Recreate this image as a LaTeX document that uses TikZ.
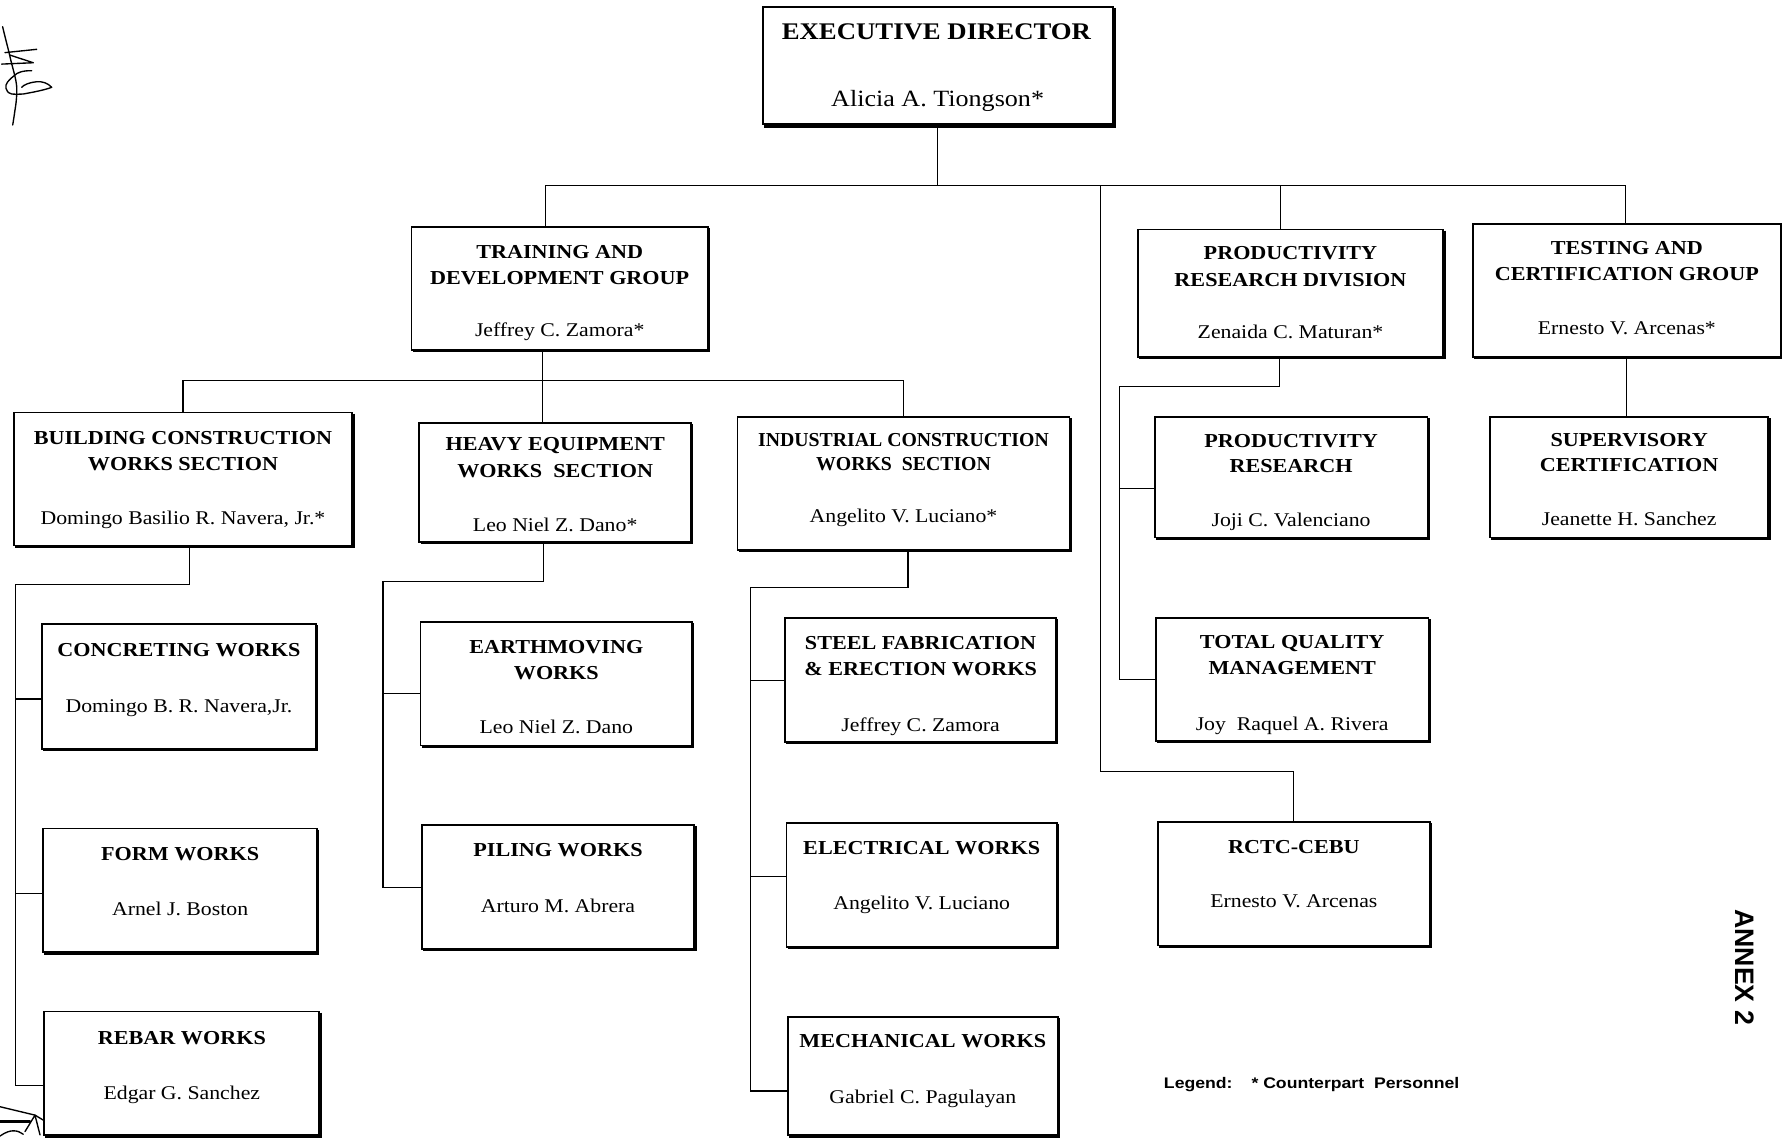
\documentclass[tikz,border=0pt]{standalone}
\usepackage{fontspec}
\setmainfont{Liberation Serif}[FakeStretch=1.12]
\newfontfamily\plainserif{Liberation Serif}
\newfontfamily\legendfont{Liberation Sans}[FakeStretch=1.15]
\newfontfamily\annexfont{Liberation Sans}

% one organisational unit: name, left, top, right, bottom
\newcommand\unitbox[5]{%
  \pgfmathsetmacro\ux{(#2+#4)/2}%
  \pgfmathsetmacro\uy{(#3+#5)/2}%
  \pgfmathsetmacro\uw{#4-#2}%
  \pgfmathsetmacro\uh{#5-#3}%
  \node[unit, minimum width=\uw pt, minimum height=\uh pt] (#1) at (\ux,\uy) {};
  \draw[line width=1.3pt] ([shift={(1.4pt,-1pt)}]#1.north east)
     -- ([shift={(1.4pt,-1.4pt)}]#1.south east)
     -- ([shift={(1pt,-1.4pt)}]#1.south west);
}

\begin{document}
\begin{tikzpicture}[x=1pt,y=-1pt,
  unit/.style={draw, line width=1.6pt, inner sep=0pt, outer sep=0pt, fill=white},
  ttl/.style={font=\fontsize{17.4}{20}\selectfont\bfseries, inner sep=0pt,
              text height=11.5pt, text depth=0pt},
  ttlnarrow/.style={font=\plainserif\fontsize{17.4}{20}\selectfont\bfseries, inner sep=0pt,
              text height=11.5pt, text depth=0pt},
  who/.style={font=\fontsize{17.1}{20}\selectfont, inner sep=0pt,
              text height=11.3pt, text depth=0pt},
  edttl/.style={font=\fontsize{21}{24}\selectfont\bfseries, inner sep=0pt,
              text height=13.9pt, text depth=0pt},
  edwho/.style={font=\fontsize{20.5}{24}\selectfont, inner sep=0pt,
              text height=13.5pt, text depth=0pt},
  link/.style={line width=1pt},
  ink/.style={line width=1.2pt, line cap=round, line join=round},
  legend/.style={font=\legendfont\bfseries\fontsize{13.5}{16}\selectfont, inner sep=0pt,
              text height=9.5pt, text depth=0pt},
]
\useasboundingbox (0,0) rectangle (1568,1001);

% ---------- executive director ----------
\node[unit, line width=1.8pt, minimum width=308pt, minimum height=103pt] (ed) at (825,57.5) {};
\draw[line width=2.6pt] ([shift={(2pt,-1pt)}]ed.north east)
   -- ([shift={(2pt,-2pt)}]ed.south east) -- ([shift={(1pt,-2pt)}]ed.south west);
\node[edttl] (ed-t) at (824,28) {EXECUTIVE DIRECTOR};
\node[edwho] (ed-n) at (825,87) {Alicia A. Tiongson*};

% ---------- groups and divisions ----------
\unitbox{tdg}{362}{200}{623}{308}
\node[ttl] (tdg-t1) at (\ux,222) {TRAINING AND};
\node[ttl] (tdg-t2) at (\ux,245) {DEVELOPMENT GROUP};
\node[who] (tdg-n) at (\ux,290) {Jeffrey C. Zamora*};

\unitbox{prd}{1001}{202}{1270}{314}
\node[ttl] (prd-t1) at (\ux,223) {PRODUCTIVITY};
\node[ttl] (prd-t2) at (\ux,246) {RESEARCH DIVISION};
\node[who] (prd-n) at (\ux,292) {Zenaida C. Maturan*};

\unitbox{tcg}{1296}{197}{1567}{314}
\node[ttl] (tcg-t1) at (\ux,218) {TESTING AND};
\node[ttl] (tcg-t2) at (\ux,241) {CERTIFICATION GROUP};
\node[who] (tcg-n) at (\ux,289) {Ernesto V. Arcenas*};

% ---------- sections ----------
\unitbox{bcw}{12}{363}{310}{480}
\node[ttl] (bcw-t1) at (\ux,385) {BUILDING CONSTRUCTION};
\node[ttl] (bcw-t2) at (\ux,408) {WORKS SECTION};
\node[who] (bcw-n) at (\ux,456) {Domingo Basilio R. Navera, Jr.*};

\unitbox{hew}{369}{372}{608}{477}
\node[ttl] (hew-t1) at (\ux,391) {HEAVY EQUIPMENT};
\node[ttl] (hew-t2) at (\ux,414) {WORKS~ SECTION};
\node[who] (hew-n) at (\ux,462) {Leo Niel Z. Dano*};

\unitbox{icw}{649}{367}{941}{484}
\node[ttlnarrow] (icw-t1) at (\ux,387) {INDUSTRIAL CONSTRUCTION};
\node[ttlnarrow] (icw-t2) at (\ux,408) {WORKS~ SECTION};
\node[who] (icw-n) at (\ux,454) {Angelito V. Luciano*};

\unitbox{pr}{1016}{367}{1256}{473}
\node[ttl] (pr-t1) at (\ux,388) {PRODUCTIVITY};
\node[ttl] (pr-t2) at (\ux,410) {RESEARCH};
\node[who] (pr-n) at (\ux,458) {Joji C. Valenciano};

\unitbox{sc}{1311}{367}{1556}{473}
\node[ttl] (sc-t1) at (\ux,387) {SUPERVISORY};
\node[ttl] (sc-t2) at (\ux,409) {CERTIFICATION};
\node[who] (sc-n) at (\ux,457) {Jeanette H. Sanchez};

% ---------- works units ----------
\unitbox{cw}{37}{549}{278}{659}
\node[ttl] (cw-t) at (\ux,572) {CONCRETING WORKS};
\node[who] (cw-n) at (\ux,621) {Domingo B. R. Navera,Jr.};

\unitbox{fw}{38}{729}{279}{838}
\node[ttl] (fw-t) at (\ux,751) {FORM WORKS};
\node[who] (fw-n) at (\ux,800) {Arnel J. Boston};

\unitbox{rb}{39}{890}{281}{999}
\node[ttl] (rb-t) at (\ux,913) {REBAR WORKS};
\node[who] (rb-n) at (\ux,962) {Edgar G. Sanchez};

\unitbox{ew}{370}{547}{609}{656}
\node[ttl] (ew-t1) at (\ux,569) {EARTHMOVING};
\node[ttl] (ew-t2) at (\ux,592) {WORKS};
\node[who] (ew-n) at (\ux,640) {Leo Niel Z. Dano};

\unitbox{pw}{371}{726}{611}{835}
\node[ttl] (pw-t) at (\ux,748) {PILING WORKS};
\node[who] (pw-n) at (\ux,797) {Arturo M. Abrera};

\unitbox{sf}{691}{544}{929}{653}
\node[ttl] (sf-t1) at (\ux,566) {STEEL FABRICATION};
\node[ttl] (sf-t2) at (\ux,589) {\& ERECTION WORKS};
\node[who] (sf-n) at (\ux,638) {Jeffrey C. Zamora};

\unitbox{el}{692}{724}{930}{833}
\node[ttl] (el-t) at (\ux,746) {ELECTRICAL WORKS};
\node[who] (el-n) at (\ux,795) {Angelito V. Luciano};

\unitbox{mw}{693}{895}{931}{999}
\node[ttl] (mw-t) at (\ux,916) {MECHANICAL WORKS};
\node[who] (mw-n) at (\ux,965) {Gabriel C. Pagulayan};

\unitbox{tqm}{1017}{544}{1257}{652}
\node[ttl] (tqm-t1) at (\ux,565) {TOTAL QUALITY};
\node[ttl] (tqm-t2) at (\ux,588) {MANAGEMENT};
\node[who] (tqm-n) at (\ux,637) {Joy~ Raquel A. Rivera};

\unitbox{rc}{1019}{723}{1258}{832}
\node[ttl] (rc-t) at (\ux,745) {RCTC-CEBU};
\node[who] (rc-n) at (\ux,793) {Ernesto V. Arcenas};

% ---------- connectors ----------
\coordinate (busL) at (480,163);
\coordinate (busR) at (1430,163);
\coordinate (prdJ) at (1127,163);
\coordinate (rcJ) at (968,163);
\coordinate (rcK) at (968,679);
\draw[link] (ed.south) -- (ed.south |- busL);
\draw[link] (tdg.north -| busL) -- (busL) -- (busR) -- (tcg.north -| busR);
\draw[link] (prdJ) -- (prd.north -| prdJ);
\draw[link] (rcJ) -- (rcK) -- (rcK -| rc.north) -- (rc.north);

% training and development sections
\coordinate (subJ) at (477,335);
\coordinate (subL) at (161,335);
\coordinate (subR) at (795,335);
\draw[link] (tdg.south -| subJ) -- (subJ);
\draw[link] (bcw.north -| subL) -- (subL) -- (subR) -- (icw.north -| subR);
\draw[link] (subJ) -- (hew.north -| subJ);

% building construction units
\coordinate (bcwK) at (167,514);
\coordinate (bcwL) at (14,514);
\coordinate (cwS) at (14,615);
\coordinate (fwS) at (14,786);
\coordinate (rbS) at (14,955);
\draw[link] (bcw.south -| bcwK) -- (bcwK) -- (bcwL) -- (rbS) -- (rbS -| rb.west);
\draw[link] (cwS) -- (cwS -| cw.west);
\draw[link] (fwS) -- (fwS -| fw.west);

% heavy equipment units
\coordinate (hewK) at (478,512);
\coordinate (hewL) at (337,512);
\coordinate (ewS) at (337,610);
\coordinate (pwS) at (337,781);
\draw[link] (hew.south -| hewK) -- (hewK) -- (hewL) -- (pwS) -- (pwS -| pw.west);
\draw[link] (ewS) -- (ewS -| ew.west);

% industrial construction units
\coordinate (icwK) at (799,517);
\coordinate (icwL) at (660,517);
\coordinate (sfS) at (660,599);
\coordinate (elS) at (660,771);
\coordinate (mwS) at (660,960);
\draw[link] (icw.south -| icwK) -- (icwK) -- (icwL) -- (mwS) -- (mwS -| mw.west);
\draw[link] (sfS) -- (sfS -| sf.west);
\draw[link] (elS) -- (elS -| el.west);

% productivity research units
\coordinate (prdK) at (1126,340);
\coordinate (prdL) at (985,340);
\coordinate (prS) at (985,430);
\coordinate (tqmS) at (985,598);
\draw[link] (prd.south -| prdK) -- (prdK) -- (prdL) -- (tqmS) -- (tqmS -| tqm.west);
\draw[link] (prS) -- (prS -| pr.west);

% testing and certification unit
\coordinate (tcgJ) at (1431,0);
\draw[link] (tcg.south -| tcgJ) -- (sc.north -| tcgJ);

% ---------- legend and annex mark ----------
\node[legend, anchor=west] (leg-a) at (1024,953) {Legend:};
\node[legend, anchor=west] (leg-b) at (1101,953) {*~Counterpart~ Personnel};
\node[font=\annexfont\bfseries\fontsize{23.5}{27}\selectfont, rotate=-90, inner sep=0pt]
  (annex) at (1535,851) {ANNEX 2};

% ---------- handwritten initials ----------
\draw[ink] (2.3,23.5) .. controls (5,35) and (7,42) .. (8.8,49.9)
  .. controls (11,60) and (14,68) .. (14.7,76.3)
  .. controls (15,85) and (14,92) .. (13.2,96.8)
  .. controls (12.5,102) and (11.8,106) .. (11.2,110);
\draw[ink] (4.4,46.3) -- (32.3,43.4);
\draw[ink] (8.8,48.5) -- (29.3,55.2) -- (1.5,56.4);
\draw[ink] (27.9,62.2) .. controls (20,62) and (15,64) .. (13.2,66)
  .. controls (8,70) and (4,74) .. (5.3,77.7)
  .. controls (6.5,81) and (8,82.7) .. (10.3,82.7)
  .. controls (14,83) and (17,83) .. (20.5,82.7)
  .. controls (30,81) and (40,79) .. (45.5,76.8)
  .. controls (42,73) and (37,71.5) .. (32.3,71.9)
  .. controls (26,72.5) and (21,74.5) .. (19.1,76.8);
% partly visible mark at the lower left
\draw[ink] (0,973.8) -- (30.8,981.2) -- (38.1,985.6);
\draw[ink, line width=2.2pt] (0,987) -- (26.4,987);
\draw[ink] (22,995.7) -- (30.8,981.2) -- (35.2,998.6);
\draw[ink] (0,999.6) .. controls (5,996) and (9,995) .. (11.7,995) .. controls (15,995) and (18,996) .. (20.5,998);
\end{tikzpicture}
\end{document}
